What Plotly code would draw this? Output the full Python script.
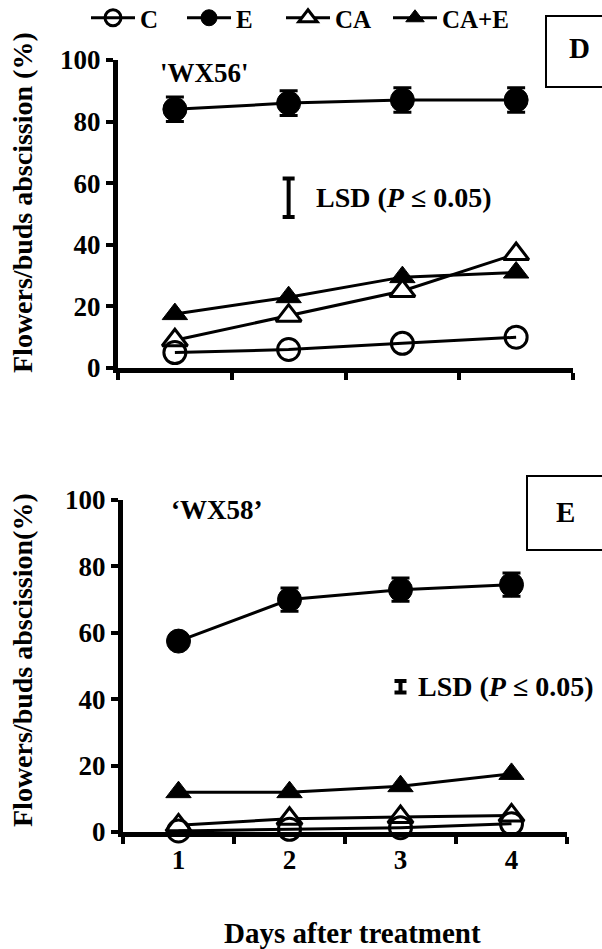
import plotly.graph_objects as go

# ---------------- data ----------------
days = [1, 2, 3, 4]
series_names = ["C", "E", "CA", "CA+E"]

wx56_C = [5, 6, 8, 10]
wx56_E = [84, 86, 87, 87]
wx56_E_err = [4, 4, 4, 4]
wx56_CA = [9, 17, 25, 37]
wx56_CAE = [17.5, 23, 29.5, 31]
wx56_lsd_x = [2]
wx56_lsd_center = [55.25]
wx56_lsd_half = [6.25]

wx58_C = [0.3, 0.8, 1.3, 2.5]
wx58_E = [57.5, 70, 73, 74.5]
wx58_E_err = [2, 3.5, 3.5, 3.5]
wx58_CA = [2, 4, 4.5, 5]
wx58_CAE = [12, 12, 13.8, 17.5]
wx58_lsd_x = [3]
wx58_lsd_center = [43.75]
wx58_lsd_half = [1.75]

y_ticks = [0, 20, 40, 60, 80, 100]
x_ticklabels = ["1", "2", "3", "4"]
x_minor_ticks = [0.5, 1.5, 2.5, 3.5, 4.5]

FONT = "Liberation Serif"
W, H = 602, 949

def px_x(p):
    return p / W

def px_y(p):
    return 1 - p / H

styles = {
    "C": dict(symbol="circle-open", size=22, color="black", line=dict(width=3, color="black")),
    "E": dict(symbol="circle", size=24, color="black", line=dict(width=1, color="black")),
    "CA": dict(symbol="triangle-up", size=22, color="white", line=dict(width=3, color="black")),
    "CA+E": dict(symbol="triangle-up", size=22, color="black", line=dict(width=1, color="black")),
}
legend_ids = {"C": "legend", "E": "legend2", "CA": "legend3", "CA+E": "legend4"}
legend_start_px = {"C": 92, "E": 188, "CA": 287, "CA+E": 394}

fig = go.Figure()

def add_panel(xa, ya, C, E, Eerr, CA, CAE, showlegend):
    data = {"C": C, "E": E, "CA": CA, "CA+E": CAE}
    for name in ["CA+E", "CA", "C", "E"]:
        kw = {}
        if name == "E":
            kw["error_y"] = dict(type="data", array=Eerr, visible=True,
                                 color="black", thickness=3, width=9)
        fig.add_trace(go.Scatter(
            x=days, y=data[name], mode="lines+markers", name=name,
            line=dict(color="black", width=3),
            marker=styles[name], xaxis=xa, yaxis=ya,
            showlegend=showlegend, legend=legend_ids[name],
            cliponaxis=False, **kw))

add_panel("x", "y", wx56_C, wx56_E, wx56_E_err, wx56_CA, wx56_CAE, True)
add_panel("x2", "y2", wx58_C, wx58_E, wx58_E_err, wx58_CA, wx58_CAE, False)

# LSD bars
for xa, ya, lx, lc, lh in [("x", "y", wx56_lsd_x, wx56_lsd_center, wx56_lsd_half),
                           ("x2", "y2", wx58_lsd_x, wx58_lsd_center, wx58_lsd_half)]:
    fig.add_trace(go.Scatter(
        x=lx, y=lc, mode="markers", marker=dict(size=1, color="rgba(0,0,0,0)"),
        error_y=dict(type="data", array=lh, visible=True, color="black", thickness=4, width=6),
        xaxis=xa, yaxis=ya, showlegend=False, cliponaxis=False, hoverinfo="skip"))

axis_common = dict(
    showline=True, linecolor="black", linewidth=5, showgrid=False, zeroline=False,
    mirror=False,
)
tickfont = dict(family=FONT, size=27, weight="bold", color="black")

legend_layout = {}
for name in series_names:
    legend_layout[legend_ids[name]] = dict(
        orientation="h", x=px_x(legend_start_px[name] - 6), y=px_y(18),
        xanchor="left", yanchor="middle",
        font=dict(family=FONT, size=25, weight="bold", color="black"),
        itemwidth=44, bgcolor="rgba(0,0,0,0)", itemclick=False)

fig.update_layout(
    width=W, height=H, margin=dict(l=0, r=0, t=0, b=0, autoexpand=False),
    paper_bgcolor="white", plot_bgcolor="white",
    font=dict(family=FONT, color="black", size=22),
    showlegend=True,
    xaxis=dict(domain=[px_x(118), px_x(573)], range=[0.5, 4.5], anchor="y",
               tickvals=[1, 2, 3, 4], ticktext=[""] * 4, ticks="",
               minor=dict(tickvals=x_minor_ticks, ticks="outside", ticklen=7,
                          tickwidth=4, tickcolor="black"),
               **axis_common),
    yaxis=dict(domain=[px_y(368), px_y(60)], range=[0, 100], anchor="x",
               tickvals=y_ticks, ticks="outside", ticklen=7, tickwidth=4, tickcolor="black",
               tickfont=tickfont, **axis_common),
    xaxis2=dict(domain=[px_x(123), px_x(567)], range=[0.5, 4.5], anchor="y2",
                tickvals=[1, 2, 3, 4], ticktext=x_ticklabels, ticks="",
                tickfont=tickfont,
                minor=dict(tickvals=x_minor_ticks, ticks="outside", ticklen=7,
                           tickwidth=4, tickcolor="black"),
                **axis_common),
    yaxis2=dict(domain=[px_y(832), px_y(500)], range=[0, 100], anchor="x2",
                tickvals=y_ticks, ticks="outside", ticklen=7, tickwidth=4, tickcolor="black",
                tickfont=tickfont, **axis_common),
    **legend_layout,
)

bold = dict(family=FONT, size=27, weight="bold", color="black")
lsd_font = dict(family=FONT, size=28, weight="bold", color="black")
title_font = dict(family=FONT, size=28, weight="bold", color="black")
ann = [
    dict(text="'WX56'", x=px_x(158), y=px_y(73), xref="paper", yref="paper",
         xanchor="left", yanchor="middle", showarrow=False, font=bold),
    dict(text="\u2018WX58\u2019", x=px_x(169), y=px_y(510), xref="paper", yref="paper",
         xanchor="left", yanchor="middle", showarrow=False, font=bold),
    dict(text="LSD (<i>P</i> \u2264 0.05)", x=2.22, y=55.25, xref="x", yref="y",
         xanchor="left", yanchor="middle", showarrow=False, font=lsd_font),
    dict(text="LSD (<i>P</i> \u2264 0.05)", x=3.14, y=43.75, xref="x2", yref="y2",
         xanchor="left", yanchor="middle", showarrow=False, font=lsd_font),
    dict(text="Flowers/buds abscission (%)", x=px_x(22), y=px_y(203), xref="paper", yref="paper",
         textangle=-90, xanchor="center", yanchor="middle", showarrow=False, font=title_font),
    dict(text="Flowers/buds abscission(%)", x=px_x(22), y=px_y(660), xref="paper", yref="paper",
         textangle=-90, xanchor="center", yanchor="middle", showarrow=False, font=title_font),
    dict(text="Days after treatment", x=px_x(352), y=px_y(933), xref="paper", yref="paper",
         xanchor="center", yanchor="middle", showarrow=False,
         font=dict(family=FONT, size=29, weight="bold", color="black")),
    dict(text="D", x=px_x(579), y=px_y(48), xref="paper", yref="paper",
         xanchor="center", yanchor="middle", showarrow=False,
         font=dict(family=FONT, size=29, weight="bold", color="black")),
    dict(text="E", x=px_x(565), y=px_y(512), xref="paper", yref="paper",
         xanchor="center", yanchor="middle", showarrow=False,
         font=dict(family=FONT, size=29, weight="bold", color="black")),
]
fig.update_layout(annotations=ann)

fig.add_shape(type="rect", xref="paper", yref="paper",
              x0=px_x(546), x1=px_x(612), y0=px_y(87), y1=px_y(16),
              line=dict(color="black", width=2), fillcolor="rgba(0,0,0,0)")
fig.add_shape(type="rect", xref="paper", yref="paper",
              x0=px_x(527), x1=px_x(612), y0=px_y(550), y1=px_y(476),
              line=dict(color="black", width=2), fillcolor="rgba(0,0,0,0)")

fig.write_html("out.html")
